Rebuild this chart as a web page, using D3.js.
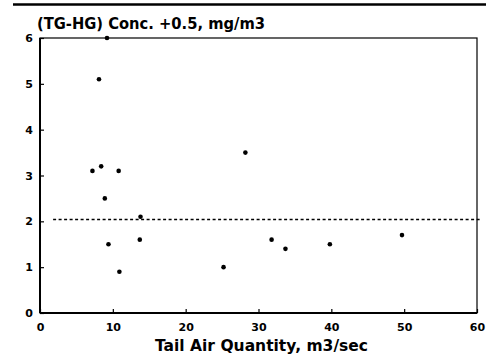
<!DOCTYPE html>
<html>
<head>
<meta charset="utf-8">
<script src="https://cdn.jsdelivr.net/npm/d3@7"></script>
<style>
  body { margin: 0; background: #fff; }
  text { font-family: "DejaVu Sans", "Liberation Sans", Arial, sans-serif; font-weight: bold; fill: #000; }
</style>
</head>
<body>
<svg id="chart" width="498" height="356"></svg>
<script>
// data
const airQty = [7.2, 8.1, 8.4, 9.2, 8.9, 9.4, 10.8, 10.9, 13.8, 13.7, 25.2, 28.2, 31.8, 33.7, 39.8, 49.7];
const conc   = [3.1, 5.1, 3.2, 6.0, 2.5, 1.5, 3.1, 0.9, 2.1, 1.6, 1.0, 3.5, 1.6, 1.4, 1.5, 1.7];
const refLevel = 2.04;
const xTicks = [0, 10, 20, 30, 40, 50, 60];
const yTicks = [0, 1, 2, 3, 4, 5, 6];

const width = 498, height = 356;
const margin = {left: 40, right: 21, top: 38, bottom: 43};

const svg = d3.select('#chart');

const x = d3.scaleLinear().domain([0, 60]).range([margin.left, width - margin.right]);
const y = d3.scaleLinear().domain([0, 6]).range([height - margin.bottom, margin.top]);

// top rule
svg.append('line')
  .attr('x1', 13).attr('x2', 486)
  .attr('y1', 4.5).attr('y2', 4.5)
  .attr('stroke', '#000').attr('stroke-width', 2.5);

svg.append('text')
  .attr('x', 37).attr('y', 29)
  .style('font-size', '15px')
  .attr('textLength', 228).attr('lengthAdjust', 'spacingAndGlyphs')
  .text('(TG-HG) Conc. +0.5, mg/m3');

// frame
svg.append('rect')
  .attr('x', x(0)).attr('y', y(6))
  .attr('width', x(60) - x(0)).attr('height', y(0) - y(6))
  .attr('fill', 'none').attr('stroke', '#000').attr('stroke-width', 1.2);

svg.append('line')
  .attr('x1', x(0)).attr('x2', x(0)).attr('y1', y(6)).attr('y2', y(0))
  .attr('stroke', '#000').attr('stroke-width', 2);
svg.append('line')
  .attr('x1', x(0)).attr('x2', x(60)).attr('y1', y(0)).attr('y2', y(0))
  .attr('stroke', '#000').attr('stroke-width', 2);

// axes with inward ticks
const xAxis = d3.axisBottom(x).tickValues(xTicks).tickSize(-4).tickPadding(10).tickFormat(d3.format('d'));
const yAxis = d3.axisLeft(y).tickValues(yTicks).tickSize(-4).tickPadding(7).tickFormat(d3.format('d'));

const gx = svg.append('g').attr('transform', `translate(0,${y(0)})`).call(xAxis);
const gy = svg.append('g').attr('transform', `translate(${x(0)},0)`).call(yAxis);
[gx, gy].forEach(g => {
  g.select('.domain').remove();
  g.selectAll('.tick line').attr('stroke', '#000').attr('stroke-width', 1.2);
  g.selectAll('.tick text')
    .style('font-size', '11px')
    .style('font-family', '"DejaVu Sans", Arial, sans-serif')
    .style('font-weight', 'bold');
});

// reference dashed line
svg.append('line')
  .attr('x1', x(1.8)).attr('x2', x(60.5))
  .attr('y1', y(refLevel)).attr('y2', y(refLevel))
  .attr('stroke', '#000').attr('stroke-width', 1.3)
  .attr('stroke-dasharray', '3,2.5');

// points
svg.append('g').selectAll('circle')
  .data(airQty.map((v, i) => [v, conc[i]]))
  .join('circle')
  .attr('cx', d => x(d[0]))
  .attr('cy', d => y(d[1]))
  .attr('r', 2.3)
  .attr('fill', '#000');

svg.append('text')
  .attr('x', 155).attr('y', 351)
  .style('font-size', '15px')
  .attr('textLength', 213).attr('lengthAdjust', 'spacingAndGlyphs')
  .text('Tail Air Quantity, m3/sec');
</script>
</body>
</html>
